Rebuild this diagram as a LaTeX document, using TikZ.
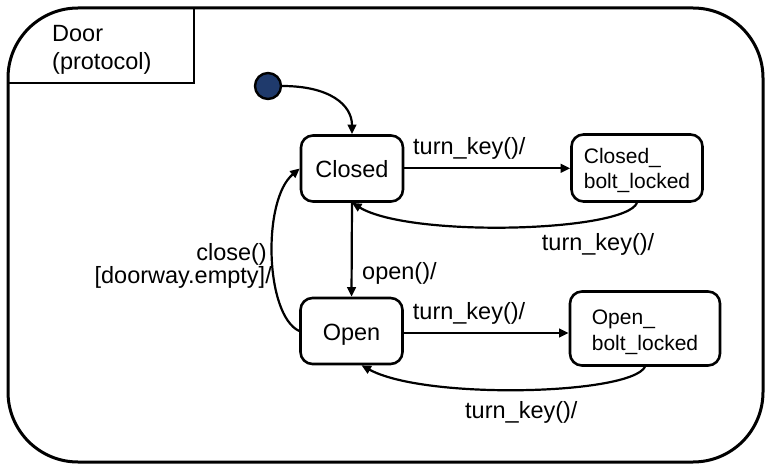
\documentclass[tikz,border=0pt]{standalone}
\usepackage{fontspec}
\setmainfont{Liberation Sans}
\usetikzlibrary{arrows.meta}
\definecolor{initblue}{RGB}{31,58,108}
\newcommand\lowtext[2]{\raisebox{-#1}[\height][\depth]{#2}}
\newcommand\twolines[2]{\begin{tabular}{@{}l@{}}#1\\#2\end{tabular}}
\tikzset{
  state/.style={draw, line width=2.6pt, rounded corners=12pt, inner sep=0pt, font=\fontsize{23.5}{28}\selectfont},
  smallstate/.style={state, font=\fontsize{21}{25.5}\selectfont},
  trans/.style={line width=2.2pt, -{Triangle[length=9.5pt,width=8.5pt]}},
  lbl/.style={inner sep=0pt, font=\fontsize{23.5}{28}\selectfont},
}
\begin{document}
\begin{tikzpicture}[x=1pt,y=-1pt]
\useasboundingbox (0,0) rectangle (771,473);
% frame
\draw[line width=3pt, rounded corners=70pt] (8,8) rectangle (763,462);
\draw[line width=2.6pt] (8,83) -- (194,83) -- (194,8);
\node[lbl, anchor=base west] (door1) at (52,42) {Door};
\node[lbl, anchor=base west] (door2) at (52,70) {(protocol)};
% states
\node[circle, draw, line width=2.4pt, fill=initblue, minimum size=26pt, inner sep=0pt] (init) at (268,86) {};
\node[state, minimum width=102pt, minimum height=66pt] (closed) at (352,168.5) {\lowtext{1pt}{Closed}};
\node[smallstate, minimum width=131pt, minimum height=67pt] (cbl) at (637,168) {\lowtext{3pt}{\twolines{Closed\_}{bolt\_locked}}};
\node[state, minimum width=102pt, minimum height=66pt] (open) at (351.5,331) {\lowtext{4pt}{Open}};
\node[smallstate, minimum width=150pt, minimum height=74pt] (obl) at (645,328.5) {\lowtext{4pt}{\twolines{Open\_}{bolt\_locked}}};
% transitions
\draw[trans] (init.east) .. controls (330,86) and (352,105) .. (closed.north);
\draw[trans] (closed.east |- 0,168.3) -- (cbl.west |- 0,168.3);
\draw[trans] (cbl.south) .. controls (625,232) and (410,238) .. (closed.south);
\draw[trans] (closed.south) -- (open.north);
\draw[trans] (open.west) .. controls (265,315) and (262,200) .. (closed.west);
\draw[trans] (open.east |- 0,333) -- (obl.west |- 0,333);
\draw[trans] (obl.south) .. controls (630,395) and (425,400) .. ([xshift=10pt]open.south);
% labels
\node[lbl, anchor=base west] (t1) at (413,155) {turn\_key()/};
\node[lbl, anchor=base west] (t2) at (541.7,251) {turn\_key()/};
\node[lbl, anchor=base west] (t3) at (412.7,319.5) {turn\_key()/};
\node[lbl, anchor=base west] (t4) at (465,418) {turn\_key()/};
\node[lbl, anchor=base west] (op) at (362,279) {open()/};
\node[lbl, anchor=base east] (cl1) at (267,260) {close()};
\node[lbl, anchor=base east] (cl2) at (272,283) {[doorway.empty]/};
\end{tikzpicture}
\end{document}
